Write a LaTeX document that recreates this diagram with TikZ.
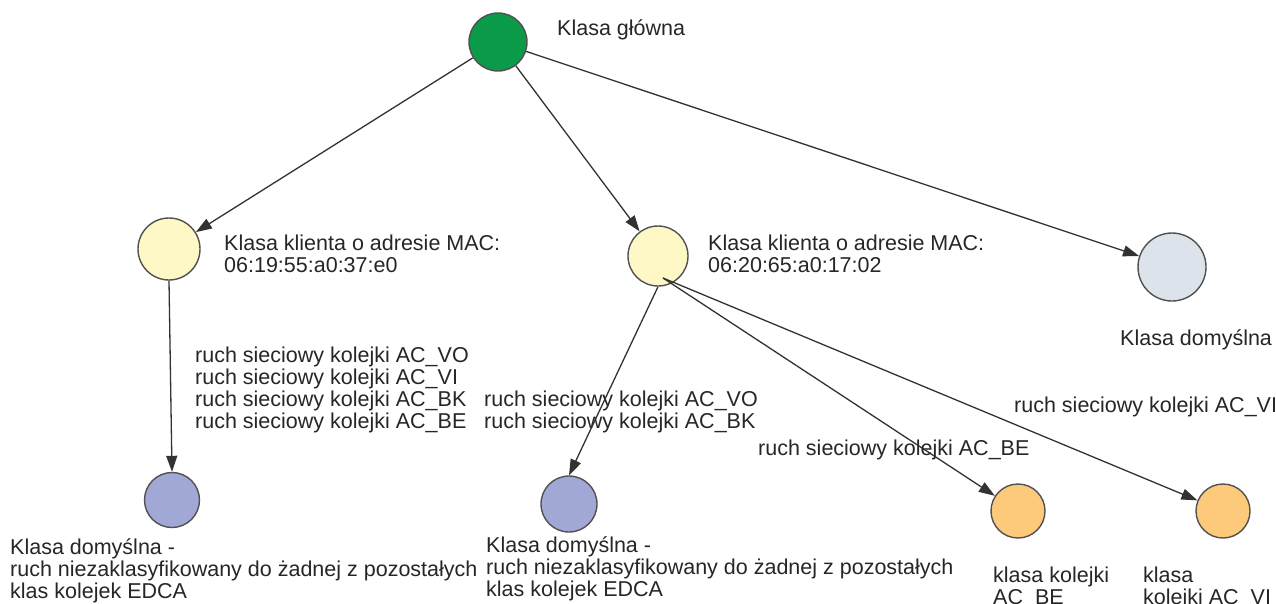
\documentclass[tikz,border=0pt]{standalone}
\usepackage{fontspec}
\setmainfont{Liberation Sans}
\usetikzlibrary{arrows.meta}
\definecolor{rootgreen}{RGB}{10,154,72}
\definecolor{clientyellow}{RGB}{254,248,198}
\definecolor{defgray}{RGB}{221,227,234}
\definecolor{queueblue}{RGB}{162,168,213}
\definecolor{queueorange}{RGB}{253,201,122}
\definecolor{edgegray}{RGB}{50,50,50}
\tikzset{
  cls/.style={circle, draw=edgegray!85, line width=1.4pt, inner sep=0pt, minimum size=#1},
  lbl/.style={inner sep=0pt, anchor=north west, align=left, text=black!85,
              font=\fontsize{21.5}{22}\selectfont},
  arr/.style={draw=edgegray, line width=1.3pt, -{Triangle[length=16pt,width=11pt]}},
}
\begin{document}
\begin{tikzpicture}[x=1pt,y=-1pt]
\useasboundingbox (0,0) rectangle (1276,603);
\clip (0,0) rectangle (1276,603);

% class nodes
\node[cls=58pt, fill=rootgreen]    (root) at (498,42)  {};
\node[cls=62pt, fill=clientyellow] (c1)   at (169,249) {};
\node[cls=60pt, fill=clientyellow] (c2)   at (658,256) {};
\node[cls=68pt, fill=defgray]      (def)  at (1172,267) {};
\node[cls=55pt, fill=queueblue]    (b1)   at (172,500) {};
\node[cls=56pt, fill=queueblue]    (b2)   at (569,504) {};
\node[cls=54pt, fill=queueorange]  (o1)   at (1018,511) {};
\node[cls=54pt, fill=queueorange]  (o2)   at (1223,511) {};
\coordinate (c2src) at (663,278);

% node captions
\node[lbl] (troot) at (557,19.5) {Klasa główna};
\node[lbl] (tc1) at (224,235) {Klasa klienta o adresie MAC:\\06:19:55:a0:37:e0};
\node[lbl] (tc2) at (708,235) {Klasa klienta o adresie MAC:\\06:20:65:a0:17:02};
\node[lbl] (tdef) at (1120,329) {Klasa domyślna};
\node[lbl] (tb1) at (10,538) {Klasa domyślna -\\ruch niezaklasyfikowany do żadnej z pozostałych\\klas kolejek EDCA};
\node[lbl] (tb2) at (486,536) {Klasa domyślna -\\ruch niezaklasyfikowany do żadnej z pozostałych\\klas kolejek EDCA};
\node[lbl] (to1) at (993,567) {klasa kolejki\\AC\_BE};
\node[lbl] (to2) at (1143,567) {klasa\\kolejki AC\_VI};

% traffic captions
\node[lbl] (e1) at (195,347) {ruch sieciowy kolejki AC\_VO\\ruch sieciowy kolejki AC\_VI\\ruch sieciowy kolejki AC\_BK\\ruch sieciowy kolejki AC\_BE};
\node[lbl] (e2) at (484,391) {ruch sieciowy kolejki AC\_VO\\ruch sieciowy kolejki AC\_BK};
\node[lbl] (e3) at (758,440) {ruch sieciowy kolejki AC\_BE};
\node[lbl] (e4) at (1014,397) {ruch sieciowy kolejki AC\_VI};

% connectors
\draw[arr] (root) -- (c1);
\draw[arr] (root) -- (c2);
\draw[arr] (root) -- (def);
\draw[arr] (c1.south) -- (b1.north);
\draw[arr] (c2.south) -- (b2.north);
\draw[arr] (c2src) -- (o1);
\draw[arr] (c2src) -- (o2);
\end{tikzpicture}
\end{document}
